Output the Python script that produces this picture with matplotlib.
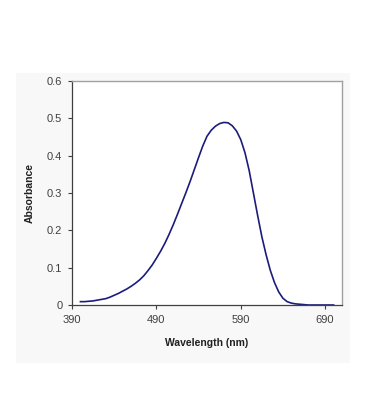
import matplotlib
matplotlib.use("Agg")
import matplotlib.pyplot as plt
from matplotlib.patches import Rectangle

# spektrum verisi (5 nm aralik)
wavelength = [400, 405, 410, 415, 420, 425, 430, 435, 440, 445, 450, 455, 460,
              465, 470, 475, 480, 485, 490, 495, 500, 505, 510, 515, 520, 525,
              530, 535, 540, 545, 550, 555, 560, 565, 570, 575, 580, 585, 590,
              595, 600, 605, 610, 615, 620, 625, 630, 635, 640, 645, 650, 655,
              660, 665, 670, 680, 690, 700]
absorbance = [0.009, 0.009, 0.010, 0.011, 0.013, 0.015, 0.017, 0.021, 0.026,
              0.031, 0.037, 0.043, 0.050, 0.058, 0.067, 0.078, 0.092, 0.107,
              0.125, 0.144, 0.165, 0.189, 0.215, 0.243, 0.272, 0.301, 0.331,
              0.363, 0.395, 0.426, 0.452, 0.468, 0.479, 0.486, 0.489, 0.488,
              0.480, 0.466, 0.443, 0.408, 0.360, 0.300, 0.240, 0.183, 0.135,
              0.093, 0.060, 0.035, 0.018, 0.009, 0.005, 0.003, 0.002, 0.001,
              0.0, 0.0, 0.0, 0.0]
x_ticks = [390, 490, 590, 690]
y_ticks = [0, 0.1, 0.2, 0.3, 0.4, 0.5, 0.6]
y_tick_labels = ["0", "0.1", "0.2", "0.3", "0.4", "0.5", "0.6"]

plt.rcParams["font.family"] = ["Liberation Sans", "DejaVu Sans"]

W, H = 369, 420
fig = plt.figure(figsize=(W / 100, H / 100), dpi=100)
fig.patch.set_facecolor("white")

# excel grafik alani (acik gri)
fig.patches.append(Rectangle((16 / W, 1 - 363 / H), (350 - 16) / W, (363 - 73) / H,
                             transform=fig.transFigure, facecolor="#f8f8f8",
                             edgecolor="none", zorder=-5))

ax = fig.add_axes([72 / W, 1 - 305 / H, (342 - 72) / W, (305 - 81) / H])
ax.set_zorder(2)
ax.set_facecolor("white")
ax.plot(wavelength, absorbance, color="#1c1c7c", lw=1.2, solid_joinstyle="round")

ax.set_xlim(390, 710)
ax.set_ylim(0, 0.6)
ax.set_xticks(x_ticks)
ax.set_yticks(y_ticks)
ax.set_yticklabels(y_tick_labels)
ax.tick_params(direction="out", length=3, width=0.8, colors="#404040",
               labelsize=8, pad=4)

for s in ["left", "bottom"]:
    ax.spines[s].set_color("#404040")
    ax.spines[s].set_linewidth(0.9)
for s in ["top", "right"]:
    ax.spines[s].set_color("#a0a0a0")
    ax.spines[s].set_linewidth(1.0)

fig.text(207 / W, 1 - 343 / H, "Wavelength (nm)", ha="center", va="center",
         fontsize=7.5, fontweight="bold", color="#202020", zorder=3)
fig.text(30 / W, 1 - 193 / H, "Absorbance", ha="center", va="center",
         rotation=90, fontsize=7.5, fontweight="bold", color="#202020", zorder=3)

fig.savefig("out.png", dpi=100, facecolor=fig.get_facecolor())
